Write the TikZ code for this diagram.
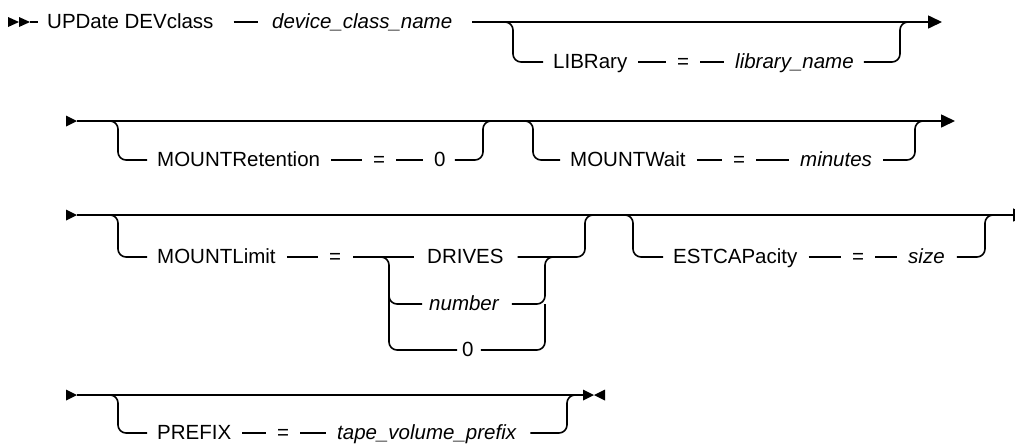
\documentclass[tikz,border=0pt]{standalone}
\usepackage{fontspec}
\setmainfont{Liberation Sans}
\usetikzlibrary{arrows.meta}
\begin{document}
\begin{tikzpicture}[x=1pt,y=-1pt,
  ln/.style={line width=1.6pt},
  rr/.style={line width=1.6pt, rounded corners=8pt},
  kw/.style={anchor=west, inner xsep=0pt, inner ysep=0pt, text height=14pt, text depth=2pt, font=\fontsize{20.5}{24}\selectfont},
  var/.style={kw, font=\fontsize{20.5}{24}\selectfont\itshape},
  gap/.style={shorten <=11pt, shorten >=11pt},
  tip/.style={-{Triangle[length=14pt,width=13pt]}},
]
\useasboundingbox (0,0) rectangle (1015,445);
\clip (0,0) rectangle (1015,445);

% ---------- line 1 ----------
\coordinate (s1) at (8,22);
\fill (s1) ++(0,-5) -- ++(11,5) -- ++(-11,5) -- cycle;
\fill (19,17) -- (30,22) -- (19,27) -- cycle;
\draw[ln] (30,22) -- (38,22);
\node[kw] (n1) at (47,22) {UPDate DEVclass};
\node[var] (n2) at (272,22) {device\_class\_name};
\draw[ln, shorten <=20pt, shorten >=14pt] (n1.east) -- (n2.west);
\coordinate (e1) at (942,22);
\draw[ln, tip, shorten <=20pt] (n2.east) -- (e1);
\coordinate (f1) at (503,22);
\coordinate (b1) at (513,62);
\node[kw] (lb) at (553,62) {LIBRary};
\node[kw] (eq1) at (677,62) {=};
\node[var] (lib) at (735,62) {library\_name};
\draw[rr, shorten >=10pt] (f1) -| (b1) -- (lb.west);
\draw[ln, gap] (lb.east) -- (eq1.west);
\draw[ln, gap] (eq1.east) -- (lib.west);
\coordinate (c1r) at (900,62);
\coordinate (j1) at (910,22);
\draw[rr, shorten <=10pt] (lib.east) -- (c1r) |- (j1);

% ---------- line 2 ----------
\coordinate (s2) at (77,121);
\coordinate (e2) at (955,121);
\fill (s2) ++(-11,-5.5) -- (s2) -- ++(-11,5.5) -- cycle;
\draw[ln, tip] (s2) -- (e2);
\coordinate (f2a) at (106,121);
\coordinate (b2a) at (118,160);
\node[kw] (mr) at (157,160) {MOUNTRetention};
\node[kw] (eq2a) at (373,160) {=};
\node[kw] (z2) at (434,160) {0};
\draw[rr, shorten >=10pt] (f2a) -| (b2a) -- (mr.west);
\draw[ln, gap] (mr.east) -- (eq2a.west);
\draw[ln, gap] (eq2a.east) -- (z2.west);
\coordinate (c2ar) at (483,160);
\coordinate (j2a) at (491,121);
\draw[rr, shorten <=9pt] (z2.east) -- (c2ar) |- (j2a);
\coordinate (f2b) at (521,121);
\coordinate (b2b) at (533,160);
\node[kw] (mw) at (570,160) {MOUNTWait};
\node[kw] (eq2b) at (733,160) {=};
\node[var] (mi) at (800,160) {minutes};
\draw[rr, shorten >=10pt] (f2b) -| (b2b) -- (mw.west);
\draw[ln, gap] (mw.east) -- (eq2b.west);
\draw[ln, gap] (eq2b.east) -- (mi.west);
\coordinate (c2br) at (915,160);
\coordinate (j2b) at (923,121);
\draw[rr, shorten <=11pt] (mi.east) -- (c2br) |- (j2b);

% ---------- line 3 ----------
\coordinate (s3) at (77,215);
\coordinate (e3) at (1027,215);
\fill (s3) ++(-11,-5.5) -- (s3) -- ++(-11,5.5) -- cycle;
\draw[ln, tip] (s3) -- (e3);
\coordinate (f3a) at (106,215);
\coordinate (b3a) at (118,257);
\node[kw] (ml) at (157,257) {MOUNTLimit};
\node[kw] (eq3) at (329,257) {=};
\node[kw] (dr) at (427,257) {DRIVES};
\node[var] (nb) at (429,304) {number};
\node[kw] (z3) at (462,350) {0};
\draw[rr, shorten >=10pt] (f3a) -| (b3a) -- (ml.west);
\draw[ln, gap] (ml.east) -- (eq3.west);
\draw[ln, shorten <=12pt, shorten >=13pt] (eq3.east) -- (dr.west);
\coordinate (cl) at (379,257);
\coordinate (c3l) at (389,350);
\coordinate (c3m) at (389,285);
\draw[rr, shorten >=5pt] (cl) -| (c3l) -- (z3.west);
\draw[rr, shorten >=7pt] (c3m) |- (nb.west);
\coordinate (c3dr) at (585,257);
\coordinate (j3a) at (593,215);
\draw[rr, shorten <=14pt] (dr.east) -- (c3dr) |- (j3a);
\coordinate (c3nr) at (545,304);
\coordinate (c3top) at (558,257);
\draw[rr, shorten <=13pt] (nb.east) -- (c3nr) |- (c3top);
\draw[rr, shorten <=7pt] (z3.east) -| (c3nr);
\coordinate (f3b) at (621,215);
\coordinate (b3b) at (633,257);
\node[kw] (es) at (673,257) {ESTCAPacity};
\node[kw] (eq3b) at (852,257) {=};
\node[var] (sz) at (908,257) {size};
\draw[rr, shorten >=10pt] (f3b) -| (b3b) -- (es.west);
\draw[ln, gap] (es.east) -- (eq3b.west);
\draw[ln, gap] (eq3b.east) -- (sz.west);
\coordinate (c3br) at (985,257);
\coordinate (j3b) at (993,215);
\draw[rr, shorten <=12pt] (sz.east) -- (c3br) |- (j3b);

% ---------- line 4 ----------
\coordinate (s4) at (77,395);
\coordinate (e4) at (583,395);
\fill (s4) ++(-11,-5.5) -- (s4) -- ++(-11,5.5) -- cycle;
\draw[ln] (s4) -- (e4);
\fill (e4) ++(0,-5.5) -- ++(11,5.5) -- ++(-11,5.5) -- cycle;
\fill (605,389.5) -- (594,395) -- (605,400.5) -- cycle;
\coordinate (f4) at (106,395);
\coordinate (b4) at (118,433);
\node[kw] (pf) at (157,433) {PREFIX};
\node[kw] (eq4) at (277,433) {=};
\node[var] (tv) at (337,433) {tape\_volume\_prefix};
\draw[rr, shorten >=10pt] (f4) -| (b4) -- (pf.west);
\draw[ln, gap] (pf.east) -- (eq4.west);
\draw[ln, gap] (eq4.east) -- (tv.west);
\coordinate (c4r) at (567,433);
\coordinate (j4) at (575,395);
\draw[rr, shorten <=14pt] (tv.east) -- (c4r) |- (j4);
\end{tikzpicture}
\end{document}
